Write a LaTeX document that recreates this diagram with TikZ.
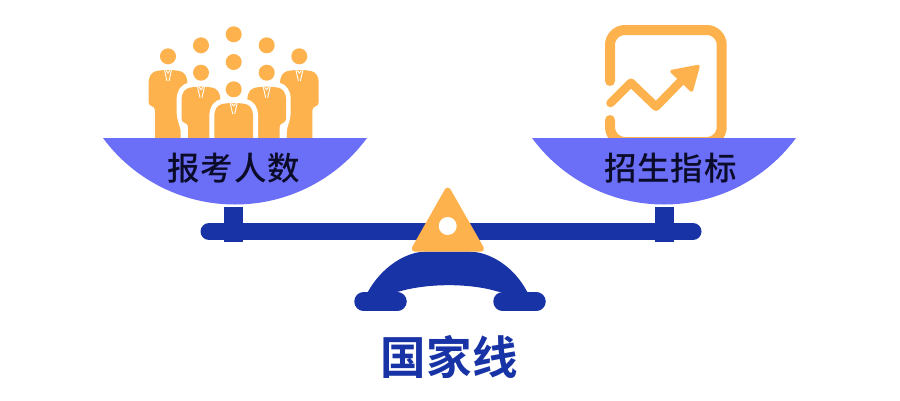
\documentclass[tikz,border=0pt]{standalone}
\usepackage{fontspec}
\newfontfamily\cjkreg[LetterSpace=3]{Noto Sans CJK SC Medium}
\newfontfamily\cjkbold[LetterSpace=1]{Noto Sans CJK SC Bold}
\definecolor{goldc}{HTML}{FDB24E}
\definecolor{panc}{HTML}{6B6EF6}
\definecolor{navyc}{HTML}{1833A5}
\definecolor{inkc}{HTML}{0B0B2A}
\tikzset{
  goldfill/.style={fill=goldc,draw=none},
  navyfill/.style={fill=navyc,draw=none},
  panlabel/.style={font=\cjkreg\fontsize{32.5}{38}\selectfont,text=inkc,inner sep=0pt},
  baselabel/.style={font=\cjkbold\fontsize{45.5}{50}\selectfont,text=navyc,inner sep=0pt},
  pics/suitbody/.style={code={
    \path[rounded corners=3.5pt,#1]
      (-5,0) -- (-15,1.5) -- (-19.3,8) -- (-19.3,36) -- (-13,36.5) -- (-13,90)
      -- (13,90) -- (13,36.5) -- (19.3,36) -- (19.3,8) -- (15,1.5) -- (5,0) -- cycle;
    \draw[white,line width=.9pt] (-3.5,0) -- (-1,11) (3.5,0) -- (1,11);
    \draw[white,line width=.9pt] (-2,0.5) -- (0,3) -- (2,0.5);
  }},
  pics/panbowl/.style={code={
    \path[fill=panc] (-132,0) .. controls (-101.1,41.9) and (-52.1,66.5) .. (0,66.5)
      .. controls (52.1,66.5) and (101.1,41.9) .. (132,0) -- cycle;
  }}
}
\begin{document}
\begin{tikzpicture}[x=1pt,y=-1pt]
\useasboundingbox[fill=white] (0,0) rectangle (900,400);

% beam and posts
\draw[navyc,line width=17pt,line cap=round] (209,231.6) -- (693,231.6);
\path[navyfill] (224.3,206.7) rectangle (243.3,242.3);
\path[navyfill] (655,206.7) rectangle (674,242.3);

% base
\path[navyfill] (366.7,294) .. controls (382,265) and (408,251.7) .. (425,251.7)
  -- (470,251.7) .. controls (488,251.7) and (514,265) .. (528.3,294)
  -- (498.3,291.7) .. controls (470,283) and (428,283) .. (398.3,291.7) -- cycle;
\draw[navyc,line width=18.7pt,line cap=round] (363.6,301.6) -- (397.4,301.6);
\draw[navyc,line width=18.7pt,line cap=round] (502.6,301.6) -- (536.4,301.6);

% fulcrum
\path[goldfill,draw=goldc,line width=6pt,line join=round]
  (447.7,190.5) -- (481,248.7) -- (414.7,248.7) -- cycle;
\path[fill=white] (447.7,226) circle (9);

% people
\pic at (168,70) {suitbody={goldfill}};
\pic at (299.4,70) {suitbody={goldfill}};
\path[draw=white,line width=10pt,rounded corners=3.5pt,fill=white]
  (196,86.7) -- (186,88.2) -- (181.7,94.7) -- (181.7,116) -- (185.7,129) -- (185.7,150)
  -- (214,150) -- (214,123.2) -- (220.3,122.7) -- (220.3,94.7) -- (216,88.2) -- (206,86.7) -- cycle;
\path[draw=white,line width=10pt,rounded corners=3.5pt,fill=white]
  (261.7,86.7) -- (251.7,88.2) -- (247.4,94.7) -- (247.4,122.7) -- (253.7,123.2) -- (253.7,150)
  -- (281.7,150) -- (281.7,129) -- (285.7,116) -- (285.7,94.7) -- (281.7,88.2) -- (271.7,86.7) -- cycle;
\pic at (201,86.7) {suitbody={goldfill}};
\pic at (266.7,86.7) {suitbody={goldfill}};
\path[draw=white,line width=10pt,rounded corners=3.5pt,fill=white]
  (228.7,103) -- (218.7,104.5) -- (214.4,111) -- (214.4,150) -- (253,150) -- (253,111) -- (248.7,104.5) -- (238.7,103) -- cycle;
\path[goldfill,rounded corners=3.5pt]
  (228.7,103) -- (218.7,104.5) -- (214.4,111) -- (214.4,150) -- (253,150) -- (253,111) -- (248.7,104.5) -- (238.7,103) -- cycle;
\draw[white,line width=.9pt] (230.2,103) -- (232.7,114) (237.2,103) -- (234.7,114) (231.7,103.5) -- (233.7,106) -- (235.7,103.5);
\foreach \hx/\hy in {233.7/34.3,201/45.3,266.7/45.3,168/56.3,299.3/56.3,233.7/62,201/72.7,266.7/72.7,233.7/89.3}
  \path[goldfill] (\hx,\hy) circle (8);

% chart icon
\draw[goldc,line width=10pt,line cap=round,rounded corners=15pt]
  (610,81) -- (610,30) -- (721.7,30) -- (721.7,142) -- (610,142) -- (610,120);
\draw[goldc,line width=8.5pt,line cap=round,line join=round]
  (610.5,103) -- (631,82.7) -- (656,106.7) -- (684,78);
\path[goldfill,draw=goldc,line width=3.5pt,line join=round]
  (672,71.5) -- (698,66.5) -- (691.5,90) -- cycle;

% pans
\pic at (235,138) {panbowl};
\pic at (664,138) {panbowl};

% labels
\node[panlabel] (leftlabel) at (234,168) {报考人数};
\node[panlabel] (rightlabel) at (670.5,168) {招生指标};
\node[baselabel] (baselabel) at (449.3,356.7) {国家线};
\end{tikzpicture}
\end{document}
